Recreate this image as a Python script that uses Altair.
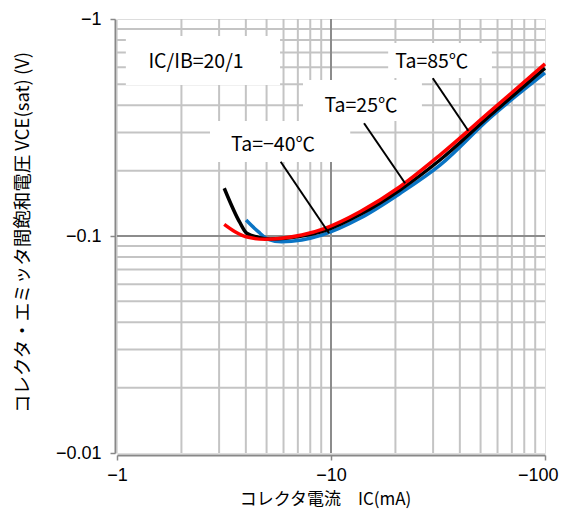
import altair as alt
import pandas as pd

FONT = "Noto Sans CJK JP"
NUMFONT = "Liberation Sans"

# --- data (magnitudes; axes labelled negative) ---
ic_m40 = [4.01, 4.57, 5.09, 5.88, 7.30, 9.05, 13.66, 21.0, 32.3, 55.3, 100]
v_m40 = [0.1185, 0.1047, 0.0966, 0.0941, 0.0959, 0.101, 0.1207, 0.157, 0.212, 0.350, 0.564]

ic_25 = [3.17, 3.76, 4.04, 4.57, 5.19, 7.30, 9.37, 13.66, 21.0, 32.3, 55.3, 100]
v_25 = [0.166, 0.1148, 0.1029, 0.0986, 0.0969, 0.100, 0.106, 0.1256, 0.163, 0.224, 0.359, 0.594]

ic_85 = [3.17, 3.56, 4.11, 4.92, 5.88, 7.30, 9.37, 13.66, 21.0, 32.3, 55.3, 100]
v_85 = [0.1132, 0.1047, 0.0986, 0.0966, 0.0976, 0.101, 0.1085, 0.1294, 0.1687, 0.236, 0.374, 0.621]

x_minor = [2, 3, 4, 5, 6, 7, 8, 9, 20, 30, 40, 50, 60, 70, 80, 90]
y_minor = [0.02, 0.03, 0.04, 0.05, 0.06, 0.07, 0.08, 0.09, 0.2, 0.3, 0.4, 0.5, 0.6, 0.7, 0.8, 0.9]
x_major = [10]
y_major = [0.1]

labels = ["IC/IB=20/1", "Ta=85℃", "Ta=25℃", "Ta=−40℃"]
label_x = [2.34, 29.6, 13.8, 5.36]
label_y = [0.634, 0.634, 0.397, 0.263]

# white boxes behind labels
box_x = [1.10, 18.5, 7.40, 2.72]
box_x2 = [5.78, 56.5, 26.6, 12.3]
box_y = [0.835, 0.775, 0.523, 0.339]
box_y2 = [0.496, 0.535, 0.339, 0.219]

# leader lines (label -> curve)
lead_x = [29.9, 14.27, 5.82]
lead_y = [0.533, 0.331, 0.220]
lead_x2 = [43.8, 22.2, 9.79]
lead_y2 = [0.3056, 0.175, 0.103]

xs = alt.Scale(type="log", domain=[1, 100], nice=False)
ys = alt.Scale(type="log", domain=[0.01, 1], nice=False)

x_axis = alt.Axis(
    values=[1, 10, 100], labelExpr="'−' + format(datum.value, '~g')",
    grid=False, domainColor="#888888", domainWidth=2, tickColor="#888888",
    tickSize=5, tickWidth=1.5, labelFont=NUMFONT, labelFontSize=18, labelColor="black",
    labelPadding=6, title="コレクタ電流　IC(mA)", titleFont=FONT, titleFontSize=17,
    titleFontWeight="normal", titleColor="black", titleX=208, titleY=44,
    titleBaseline="middle", offset=2, labelFlush=False,
    labelAlign={"condition": {"test": "datum.value >= 100", "value": "right"}, "value": "center"},
    labelOffset={"condition": {"test": "datum.value >= 100", "value": 13}, "value": 0},
)
y_axis = alt.Axis(
    values=[0.01, 0.1, 1], labelExpr="'−' + format(datum.value, '~g')",
    grid=False, domainColor="#888888", domainWidth=2, tickColor="#888888",
    tickSize=5, tickWidth=1.5, labelFont=NUMFONT, labelFontSize=18, labelColor="black",
    labelPadding=9, title="コレクタ・エミッタ間飽和電圧 VCE(sat) (V)", titleFont=FONT,
    titleFontSize=18.5, titleFontWeight="normal", titleColor="black",
    titleX=-93, titleY=213, titleAngle=-90, titleAlign="center", titleBaseline="middle",
    offset=2, labelFlush=False,
)

gx_minor = alt.Chart(pd.DataFrame({"x": x_minor})).mark_rule(color="#c4c4c4", strokeWidth=2).encode(
    x=alt.X("x:Q", scale=xs, axis=x_axis))
gy_minor = alt.Chart(pd.DataFrame({"y": y_minor})).mark_rule(color="#c4c4c4", strokeWidth=2).encode(
    y=alt.Y("y:Q", scale=ys, axis=y_axis))
gx_major = alt.Chart(pd.DataFrame({"x": x_major})).mark_rule(color="#8c8c8c", strokeWidth=2).encode(
    x=alt.X("x:Q", scale=xs))
gy_major = alt.Chart(pd.DataFrame({"y": y_major})).mark_rule(color="#8c8c8c", strokeWidth=2).encode(
    y=alt.Y("y:Q", scale=ys))

boxes = alt.Chart(pd.DataFrame({"x": box_x, "x2": box_x2, "y": box_y, "y2": box_y2})).mark_rect(
    color="white").encode(x=alt.X("x:Q", scale=xs), x2="x2:Q", y=alt.Y("y:Q", scale=ys), y2="y2:Q")

def curve(xv, yv, color):
    return alt.Chart(pd.DataFrame({"x": xv, "y": yv})).mark_line(
        color=color, strokeWidth=3.5, interpolate="monotone").encode(
        x=alt.X("x:Q", scale=xs), y=alt.Y("y:Q", scale=ys))

l_m40 = curve(ic_m40, v_m40, "#0a74c4")
l_25 = curve(ic_25, v_25, "black")
l_85 = curve(ic_85, v_85, "#ff0000")

leads = alt.Chart(pd.DataFrame({"x": lead_x, "y": lead_y, "x2": lead_x2, "y2": lead_y2})).mark_rule(
    color="black", strokeWidth=2).encode(
    x=alt.X("x:Q", scale=xs), y=alt.Y("y:Q", scale=ys), x2="x2:Q", y2="y2:Q")

texts = alt.Chart(pd.DataFrame({"x": label_x, "y": label_y, "t": labels})).mark_text(
    font=FONT, fontSize=19.5, color="black", align="center", baseline="middle").encode(
    x=alt.X("x:Q", scale=xs), y=alt.Y("y:Q", scale=ys), text="t:N")

chart = alt.layer(
    gx_minor, gy_minor, gx_major, gy_major, boxes, l_m40, l_25, l_85, leads, texts
).properties(
    width=428, height=434,
    autosize=alt.AutoSizeParams(type="none"),
    padding={"left": 109, "top": 11, "right": 15, "bottom": 56},
).configure_view(stroke="black", strokeWidth=3).configure(background="white")

chart.save("out.html", embed_options={"renderer": "svg", "actions": False})
